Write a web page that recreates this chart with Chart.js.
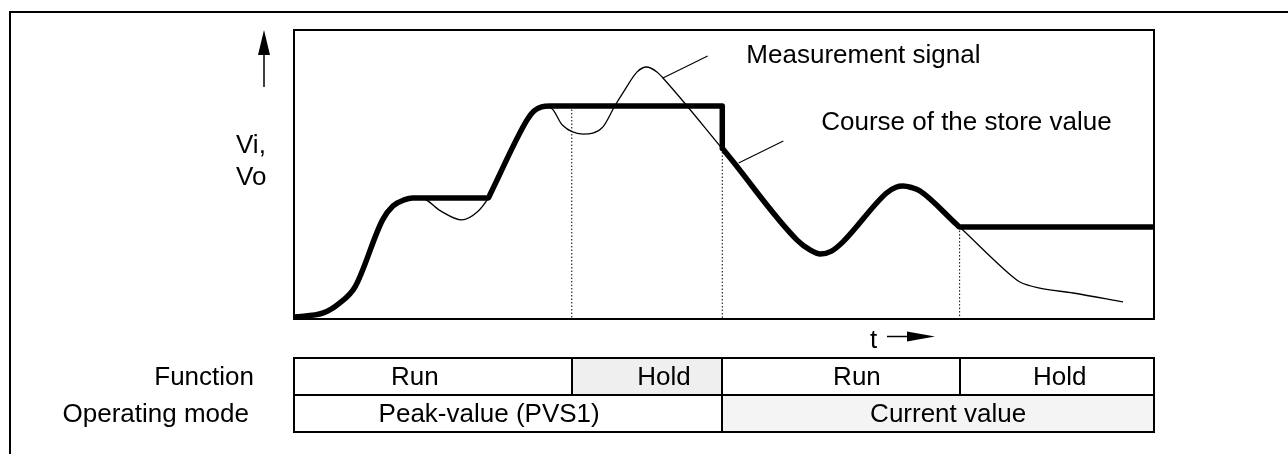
<!DOCTYPE html>
<html>
<head>
<meta charset="utf-8">
<script src="https://cdn.jsdelivr.net/npm/chart.js@4"></script>
<style>
  html, body { margin: 0; padding: 0; background: #fff; }
  canvas { display: block; }
</style>
</head>
<body>
<canvas id="chart" width="1288" height="454"></canvas>
<script>
// Input signal Vi over time (time 0–100, level 0–100)
const signalTime  = [0, 3.4, 5.3, 7.1, 10.3, 11.5, 12.8, 13.8, 15.0, 17.0, 19.5, 21.3, 22.6, 22.8,
                     27.1, 27.9, 28.8, 29.9, 31.2, 33.6, 35.9, 37.3, 38.3, 39.9, 41.0, 42.2, 42.9,
                     49.8, 58.5, 60.0, 61.2, 62.5, 63.8, 68.9, 70.0, 70.8, 71.8, 72.8, 77.4,
                     83.6, 84.4, 86.7, 90.6, 96.4];
const signalLevel = [0.7, 2.1, 5.5, 11.1, 34.3, 39.1, 41.2, 41.9, 41.7, 37.5, 34.3, 37.0, 41.9, 43.1,
                     68.9, 72.0, 73.4, 73.0, 67.1, 64.0, 66.4, 73.7, 78.5, 85.5, 87.2, 85.5, 83.4,
                     58.9, 27.3, 23.9, 22.5, 23.5, 26.6, 43.6, 45.6, 46.0, 45.5, 44.3, 31.8,
                     14.5, 12.8, 10.7, 9.0, 5.9];

// Output Vo: the value kept in the store
const storeTime  = [0, 3.4, 5.3, 7.1, 10.3, 11.5, 12.8, 13.8, 22.6, 22.8, 27.1, 27.9, 28.8, 29.8,
                    49.8, 49.8, 50.2, 58.5, 60.0, 61.2, 62.5, 63.8, 68.9, 70.0, 70.8, 71.8, 72.8,
                    77.1, 77.4, 100];
const storeLevel = [0.7, 2.1, 5.5, 11.1, 34.3, 39.1, 41.2, 41.9, 41.9, 43.1, 68.9, 72.0, 73.4, 73.7,
                    73.7, 59.0, 57.6, 27.3, 23.9, 22.5, 23.5, 26.6, 43.6, 45.6, 46.0, 45.5, 44.3,
                    32.6, 31.8, 31.8];

// Switch-over instants and the store level at each one
const switchTime  = [32.3, 49.8, 77.4];
const switchLevel = [73.7, 59.0, 31.8];

// Rows of the table under the time axis
const functionBounds = [0, 32.3, 49.8, 77.4, 100];
const functionNames  = ['Run', 'Hold', 'Run', 'Hold'];
const modeBounds = [0, 49.8, 100];
const modeNames  = ['Peak-value (PVS1)', 'Current value'];

// Callout leaders (time, level) and their captions
const signalLeaderTime  = [42.9, 48.1];
const signalLeaderLevel = [83.4, 91.0];
const storeLeaderTime   = [51.7, 56.9];
const storeLeaderLevel  = [54.0, 61.6];
const captions = ['Measurement signal', 'Course of the store value'];
const captionTime  = [52.6, 61.3];
const captionLevel = [88.6, 65.4];

// ---- styling / layout ----
const INK = '#000';
const FONT = '26px "Liberation Sans", Arial, Helvetica, sans-serif';
const functionFill = ['#ffffff', '#efefef', '#ffffff', '#ffffff'];
const modeFill = ['#ffffff', '#f4f4f4'];
const functionShift = [-18, 17, 16, 3];
const modeShift = [-19, 10];

const pts = (ts, vs) => ts.map((t, i) => ({ x: t, y: vs[i] }));

const datasets = [
  { data: pts(signalTime, signalLevel), borderColor: INK, borderWidth: 1.3,
    cubicInterpolationMode: 'monotone' },
  { data: pts(storeTime, storeLevel), borderColor: INK, borderWidth: 5.5,
    cubicInterpolationMode: 'monotone', borderJoinStyle: 'round' },
  ...switchTime.map((t, i) => ({
    data: [{ x: t, y: switchLevel[i] }, { x: t, y: 0 }],
    borderColor: INK, borderWidth: 1, borderDash: [1.5, 2]
  })),
  { data: pts(signalLeaderTime, signalLeaderLevel), borderColor: INK, borderWidth: 1.1 },
  { data: pts(storeLeaderTime, storeLeaderLevel), borderColor: INK, borderWidth: 1.1 }
];

const decor = {
  id: 'decor',
  afterDraw(chart) {
    const { ctx, chartArea: a, scales: { x, y } } = chart;
    ctx.save();
    ctx.strokeStyle = INK;
    ctx.fillStyle = INK;
    ctx.lineWidth = 2;

    // page frame
    ctx.beginPath();
    ctx.moveTo(10, chart.height);
    ctx.lineTo(10, 12);
    ctx.lineTo(chart.width, 12);
    ctx.stroke();

    // plot frame
    ctx.strokeRect(a.left, a.top, a.right - a.left, a.bottom - a.top);

    // value axis arrow
    const ax = a.left - 30;
    ctx.lineWidth = 1.5;
    ctx.beginPath();
    ctx.moveTo(ax, a.top + 57);
    ctx.lineTo(ax, a.top + 22);
    ctx.stroke();
    ctx.beginPath();
    ctx.moveTo(ax - 6, a.top + 25);
    ctx.lineTo(ax + 6, a.top + 25);
    ctx.lineTo(ax, a.top);
    ctx.closePath();
    ctx.fill();

    ctx.font = FONT;
    ctx.textBaseline = 'alphabetic';
    ctx.textAlign = 'left';
    ctx.fillText('Vi,', a.left - 58, 153);
    ctx.fillText('Vo', a.left - 58, 185);

    // captions
    captions.forEach((c, i) => {
      ctx.fillText(c, x.getPixelForValue(captionTime[i]), y.getPixelForValue(captionLevel[i]));
    });

    // time axis label and arrow
    const tx = 870, ty = a.bottom + 29;
    ctx.fillText('t', tx, ty);
    ctx.lineWidth = 1.5;
    ctx.beginPath();
    ctx.moveTo(887, ty - 11.5);
    ctx.lineTo(910, ty - 11.5);
    ctx.stroke();
    ctx.beginPath();
    ctx.moveTo(907, ty - 16.5);
    ctx.lineTo(935, ty - 11.5);
    ctx.lineTo(907, ty - 6.5);
    ctx.closePath();
    ctx.fill();

    // table
    const top = a.bottom + 39, rowH = 37;
    const mid = top + rowH, bot = mid + rowH;
    const cells = (bounds, names, fills, shifts, y0) => {
      names.forEach((n, i) => {
        const x0 = x.getPixelForValue(bounds[i]);
        const x1 = x.getPixelForValue(bounds[i + 1]);
        ctx.fillStyle = fills[i];
        ctx.fillRect(x0, y0, x1 - x0, rowH);
        ctx.fillStyle = INK;
        ctx.textAlign = 'center';
        ctx.fillText(n, (x0 + x1) / 2 + shifts[i], y0 + 26.5);
      });
    };
    cells(functionBounds, functionNames, functionFill, functionShift, top);
    cells(modeBounds, modeNames, modeFill, modeShift, mid);

    ctx.textAlign = 'right';
    ctx.fillText('Function', a.left - 40, top + 26.5);
    ctx.fillText('Operating mode', a.left - 45, mid + 26.5);

    ctx.lineWidth = 2;
    ctx.strokeStyle = INK;
    ctx.strokeRect(a.left, top, a.right - a.left, bot - top);
    ctx.beginPath();
    ctx.moveTo(a.left, mid);
    ctx.lineTo(a.right, mid);
    functionBounds.slice(1, -1).forEach(b => {
      const px = Math.round(x.getPixelForValue(b));
      ctx.moveTo(px, top);
      ctx.lineTo(px, mid);
    });
    modeBounds.slice(1, -1).forEach(b => {
      const px = Math.round(x.getPixelForValue(b));
      ctx.moveTo(px, mid);
      ctx.lineTo(px, bot);
    });
    ctx.stroke();
    ctx.restore();
  }
};

new Chart(document.getElementById('chart'), {
  type: 'line',
  data: { datasets },
  options: {
    responsive: false,
    animation: false,
    devicePixelRatio: 1,
    layout: { padding: { left: 294, top: 30, right: 134, bottom: 135 } },
    elements: { point: { radius: 0, hoverRadius: 0 }, line: { fill: false } },
    plugins: { legend: { display: false }, tooltip: { enabled: false } },
    events: [],
    scales: {
      x: { type: 'linear', min: 0, max: 100, display: false },
      y: { type: 'linear', min: 0, max: 100, display: false }
    }
  },
  plugins: [decor]
});
</script>
</body>
</html>
